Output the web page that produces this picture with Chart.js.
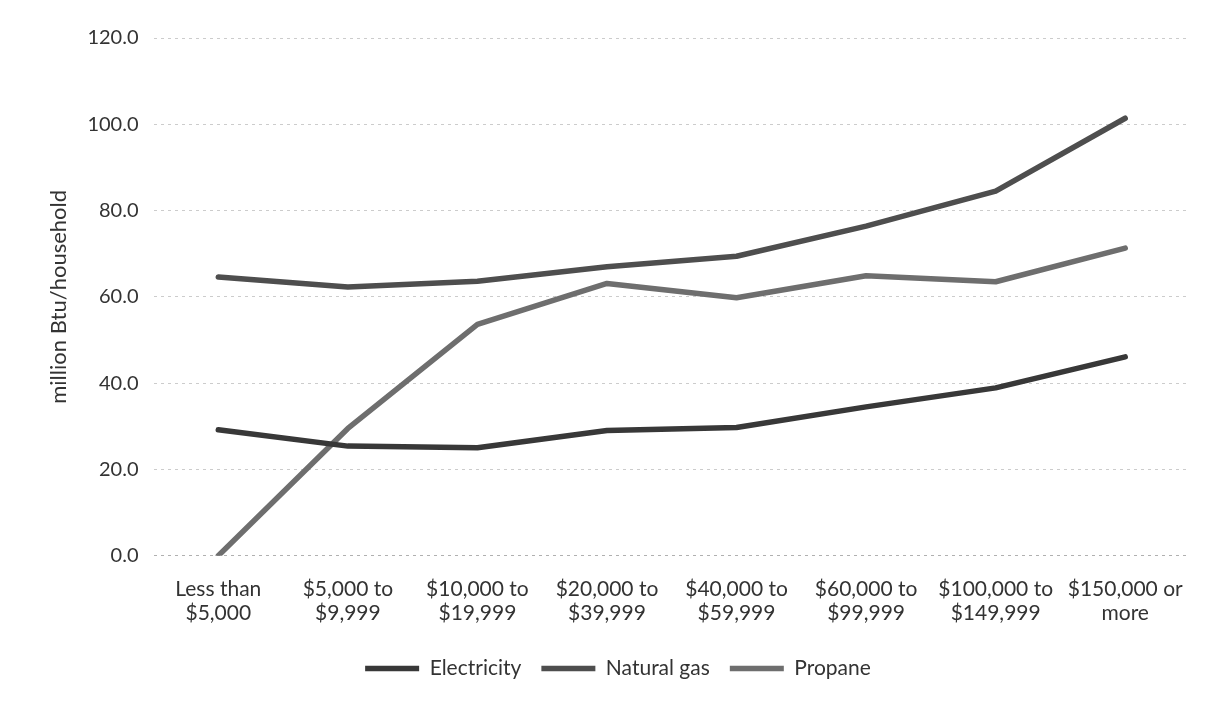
<!DOCTYPE html>
<html>
<head>
<meta charset="utf-8">
<script src="https://cdn.jsdelivr.net/npm/chart.js@4.4.1/dist/chart.umd.min.js"></script>
<style>
  html, body { margin: 0; padding: 0; background: #fff; }
  #wrap { width: 1222px; height: 704px; position: relative; }
</style>
</head>
<body>
<div id="wrap"><canvas id="energyChart"></canvas></div>
<script>
// income groups (x axis)
const incomeGroups = [
    ['Less than', '$5,000'],
    ['$5,000 to', '$9,999'],
    ['$10,000 to', '$19,999'],
    ['$20,000 to', '$39,999'],
    ['$40,000 to', '$59,999'],
    ['$60,000 to', '$99,999'],
    ['$100,000 to', '$149,999'],
    ['$150,000 or', 'more']
];

// million Btu per household
const electricity = [29.2, 25.4, 25.0, 29.0, 29.7, 34.5, 38.9, 46.1];
const naturalGas = [64.6, 62.3, 63.6, 67.0, 69.4, 76.4, 84.5, 101.4];
const propane = [0, 29.5, 53.6, 63.1, 59.8, 64.9, 63.5, 71.3];

const yTicks = [0, 20, 40, 60, 80, 100, 120];

const fontFamily = 'Lato, "Open Sans", sans-serif';

function lineSet(label, data, color) {
    return {
        label: label,
        data: data,
        borderColor: color,
        backgroundColor: color,
        borderWidth: 5.5,
        borderCapStyle: 'round',
        borderJoinStyle: 'round',
        pointRadius: 0,
        pointHoverRadius: 0,
        tension: 0,
        fill: false
    };
}

const ctx = document.getElementById('energyChart').getContext('2d');
new Chart(ctx, {
    type: 'line',
    data: {
        labels: incomeGroups,
        datasets: [
            lineSet('Electricity', electricity, '#383838'),
            lineSet('Natural gas', naturalGas, '#4e4e4e'),
            lineSet('Propane', propane, '#6e6e6e')
        ]
    },
    options: {
        responsive: true,
        maintainAspectRatio: false,
        animation: false,
        layout: { padding: { top: 38, right: 32, bottom: 15, left: 46 } },
        plugins: {
            tooltip: { enabled: false },
            legend: {
                position: 'bottom',
                labels: {
                    usePointStyle: true,
                    pointStyle: 'line',
                    pointStyleWidth: 54,
                    color: '#333',
                    padding: 20,
                    font: { family: fontFamily, size: 21 }
                }
            }
        },
        scales: {
            x: {
                offset: true,
                grid: { display: false },
                border: { display: false },
                ticks: {
                    color: '#333',
                    padding: 13,
                    maxRotation: 0,
                    autoSkip: false,
                    font: { family: fontFamily, size: 21, lineHeight: 1.15 }
                }
            },
            y: {
                min: 0,
                max: 120,
                afterBuildTicks: axis => { axis.ticks = yTicks.map(v => ({ value: v })); },
                border: { display: false, dash: [3, 4] },
                grid: {
                    color: ctx => ctx.tick && ctx.tick.value === 0 ? '#b0b0b0' : '#cccccc',
                    lineWidth: 1,
                    drawTicks: false
                },
                ticks: {
                    color: '#333',
                    padding: 15,
                    font: { family: fontFamily, size: 20 },
                    callback: v => Number(v).toFixed(1)
                },
                title: {
                    display: true,
                    text: 'million Btu/household',
                    color: '#333',
                    padding: { top: 0, bottom: 0 },
                    font: { family: fontFamily, size: 22 }
                }
            }
        }
    }
});
</script>
</body>
</html>
